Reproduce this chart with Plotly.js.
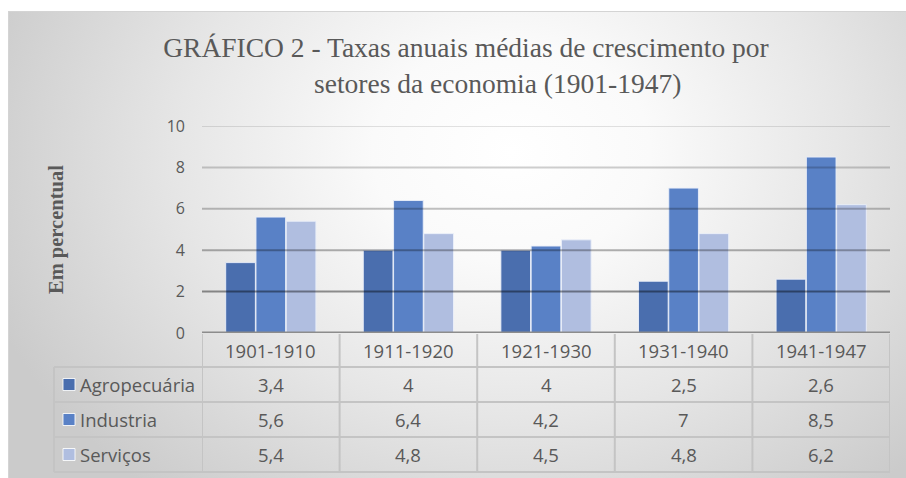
<!DOCTYPE html>
<html>
<head>
<meta charset="utf-8">
<script src="https://cdn.plot.ly/plotly-3.0.1.min.js"></script>
<style>
  html, body { margin: 0; padding: 0; width: 906px; height: 478px; overflow: hidden; background: #ffffff; }
  #bg { position: absolute; left: 8px; top: 11px; width: 898px; height: 467px;
        background: radial-gradient(ellipse 62% 95% at 56% 30%, #ffffff 0%, #fafafa 25%, #e6e6e6 60%, #cbcbcb 100%);
        border-top: 1px solid #d4d4d4; border-left: 1px solid #d4d4d4; box-sizing: border-box; }
  #chart { position: absolute; left: 0; top: 0; width: 906px; height: 478px; }
</style>
</head>
<body>
<div id="bg"></div>
<div id="chart"></div>
<script>
// ---- data ----
const categories = ['1901-1910', '1911-1920', '1921-1930', '1931-1940', '1941-1947'];
const seriesNames = ['Agropecuária', 'Industria', 'Serviços'];
const agropecuaria = [3.4, 4, 4, 2.5, 2.6];
const industria = [5.6, 6.4, 4.2, 7, 8.5];
const servicos = [5.4, 4.8, 4.5, 4.8, 6.2];
const yTicks = [0, 2, 4, 6, 8, 10];
const titleLine1 = 'GRÁFICO 2 - Taxas anuais médias de crescimento por';
const titleLine2 = 'setores da economia (1901-1947)';
const yTitleText = 'Em percentual';

// ---- styles ----
const colors = ['#4a6eae', '#5981c6', '#b0bee0'];
const textColor = '#595959';
const tableLine = '#c4c4c4';
const W = 906, H = 478;
const mL = 202, mR = 16, mT = 126, mB = 145;
const plotW = W - mL - mR, plotH = H - mT - mB;
const px2x = p => (p - mL) / plotW;       // page x pixel -> paper x
const py2y = p => (H - mB - p) / plotH;   // page y pixel -> paper y

const allSeries = [agropecuaria, industria, servicos];
const traces = allSeries.map((vals, i) => ({
  type: 'bar',
  name: seriesNames[i],
  x: categories,
  y: vals,
  marker: { color: colors[i], line: { color: 'rgba(235,240,250,0.9)', width: 1 } },
  hoverinfo: 'skip'
}));

const shapes = [];
const annotations = [];

// gridlines drawn above the bars (as in the reference)
const gridAlpha = { 2: 0.42, 4: 0.3, 6: 0.24, 8: 0.19, 10: 0.11 };
yTicks.filter(v => v > 0).forEach(v => {
  shapes.push({ type: 'line', layer: 'above', xref: 'paper', yref: 'y', x0: 0, x1: 1, y0: v, y1: v,
    line: { color: 'rgba(0,0,0,' + gridAlpha[v] + ')', width: 2 } });
});
// zero / axis line
shapes.push({ type: 'line', layer: 'above', xref: 'paper', yref: 'y', x0: 0, x1: 1, y0: 0, y1: 0,
  line: { color: '#8c8c8c', width: 3 } });

// ---- data table under the plot ----
const rowLines = [367, 402, 437, 472];
const legendLeft = 54;
rowLines.forEach(p => {
  shapes.push({ type: 'line', xref: 'paper', yref: 'paper', x0: px2x(legendLeft), x1: 1,
    y0: py2y(p), y1: py2y(p), line: { color: tableLine, width: 2 } });
});
// vertical lines between category columns
for (let i = 0; i <= categories.length; i++) {
  shapes.push({ type: 'line', xref: 'x', yref: 'paper', x0: i - 0.5, x1: i - 0.5,
    y0: py2y(334), y1: py2y(472), line: { color: tableLine, width: 2 } });
}
// legend column left border
shapes.push({ type: 'line', xref: 'paper', yref: 'paper', x0: px2x(legendLeft), x1: px2x(legendLeft),
  y0: py2y(367), y1: py2y(472), line: { color: tableLine, width: 2 } });

const tableFont = { family: 'Open Sans', size: 18.5, color: textColor };
// header row
categories.forEach(c => {
  annotations.push({ xref: 'x', yref: 'paper', x: c, y: py2y(350.5), text: c, showarrow: false,
    xanchor: 'center', yanchor: 'middle', font: tableFont });
});
// value rows + legend keys
const rowCenters = [384.5, 419.5, 454.5];
allSeries.forEach((vals, r) => {
  vals.forEach((v, ci) => {
    annotations.push({ xref: 'x', yref: 'paper', x: categories[ci], y: py2y(rowCenters[r]),
      text: String(v).replace('.', ','), showarrow: false, xanchor: 'center', yanchor: 'middle', font: tableFont });
  });
  annotations.push({ xref: 'paper', yref: 'paper', x: px2x(78), y: py2y(rowCenters[r]),
    text: seriesNames[r], showarrow: false, xanchor: 'left', yanchor: 'middle', font: tableFont });
  shapes.push({ type: 'rect', xref: 'paper', yref: 'paper',
    x0: px2x(63), x1: px2x(75), y0: py2y(rowCenters[r] + 6), y1: py2y(rowCenters[r] - 6),
    fillcolor: colors[r], line: { color: 'rgba(255,255,255,0.85)', width: 1 } });
});

// y axis title
annotations.push({ xref: 'paper', yref: 'paper', x: px2x(56), y: py2y(230), text: '<b>' + yTitleText + '</b>',
  textangle: -90, showarrow: false, xanchor: 'center', yanchor: 'middle',
  font: { family: 'Liberation Serif', size: 20.5, color: textColor } });

// second title line (indented in the reference, not centred under line 1)
const titleFont = { family: 'Liberation Serif', size: 27.5, color: textColor };
annotations.push({ xref: 'paper', yref: 'paper', x: px2x(312), y: py2y(83), text: titleLine2,
  showarrow: false, xanchor: 'left', yanchor: 'middle', font: titleFont });

const layout = {
  width: W, height: H,
  margin: { l: mL, r: mR, t: mT, b: mB, pad: 0 },
  paper_bgcolor: 'rgba(0,0,0,0)',
  plot_bgcolor: 'rgba(0,0,0,0)',
  title: { text: titleLine1, x: 466 / W, xanchor: 'center', xref: 'container',
    y: 1 - 47 / H, yanchor: 'middle', yref: 'container', font: titleFont },
  barmode: 'group',
  bargap: 0.34,
  bargroupgap: 0.02,
  showlegend: false,
  xaxis: { type: 'category', range: [-0.5, categories.length - 0.5], showticklabels: false,
    showgrid: false, zeroline: false, showline: false, ticks: '', fixedrange: true },
  yaxis: { range: [0, 10], tickvals: yTicks, ticktext: yTicks.map(String), showgrid: false, zeroline: false,
    showline: false, ticks: '', ticklabelstandoff: 16,
    tickfont: { family: 'Open Sans', size: 16, color: textColor }, fixedrange: true },
  shapes: shapes,
  annotations: annotations
};

Plotly.newPlot('chart', traces, layout, { displayModeBar: false, staticPlot: true });
</script>
</body>
</html>
